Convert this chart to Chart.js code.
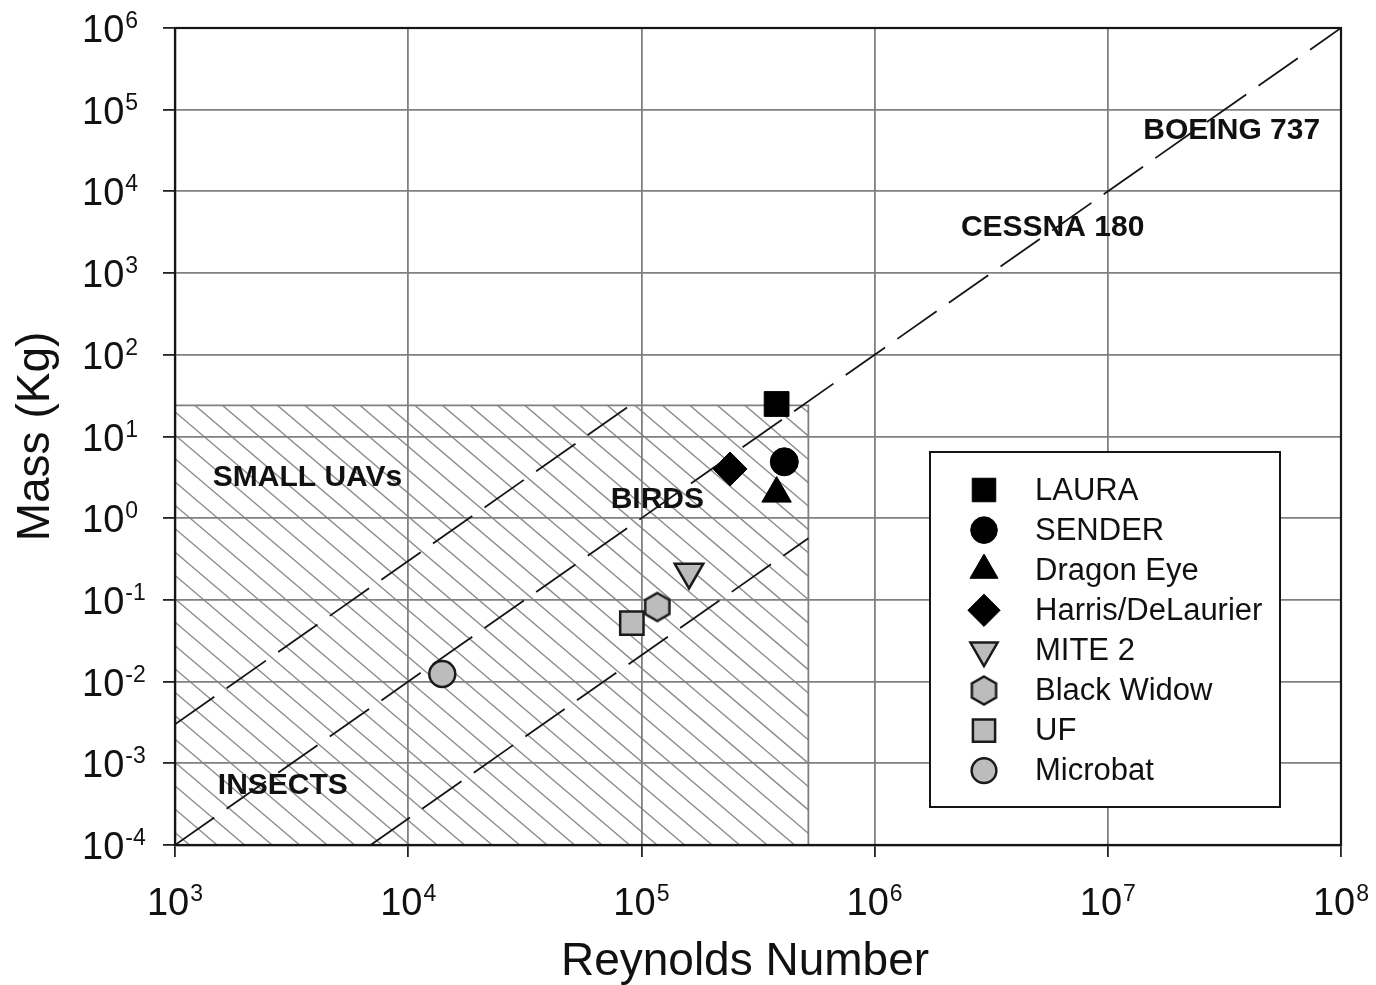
<!DOCTYPE html>
<html>
<head>
<meta charset="utf-8">
<script src="https://cdn.jsdelivr.net/npm/chart.js@4.4.1/dist/chart.umd.min.js"></script>
<style>
  html, body { margin: 0; padding: 0; background: #fff; }
</style>
</head>
<body>
<canvas id="myChart" width="1376" height="985"></canvas>
<script>
// vehicles
const vehicles = ['LAURA', 'SENDER', 'Dragon Eye', 'Harris/DeLaurier', 'MITE 2', 'Black Widow', 'UF', 'Microbat'];
const reynolds = [3.8e5, 4.1e5, 3.8e5, 2.4e5, 1.6e5, 1.17e5, 9.1e4, 1.4e4];
const massKg = [25, 4.9, 2.0, 4.0, 0.22, 0.082, 0.052, 0.0124];

// dashed guide lines (Re, mass endpoints)
const guideRe = [[1e3, 1e8], [1e3, 9e4], [6.9e3, 5.2e5]];
const guideMass = [[1e-4, 1e6], [3e-3, 24.3], [1e-4, 0.57]];

// hatched small-UAV / birds / insects region
const hatchRe = [1e3, 5.2e5];
const hatchMass = [1e-4, 24];

// region labels
const regionNames = ['BOEING 737', 'CESSNA 180', 'SMALL UAVs', 'BIRDS', 'INSECTS'];
const regionRe = [3.4e7, 5.8e6, 3.7e3, 1.17e5, 2.9e3];
const regionMass = [5.6e4, 3.6e3, 3.1, 1.67, 5.3e-4];

// tick labels (powers of ten)
const xTickExp = ['3', '4', '5', '6', '7', '8'];
const yTickExp = ['-4', '-3', '-2', '-1', '0', '1', '2', '3', '4', '5', '6'];

const FONT = "'Liberation Sans', Arial, Helvetica, sans-serif";

function hexagonCanvas(r, fill, stroke, lw) {
  const size = Math.ceil(2 * r + lw + 2);
  const c = document.createElement('canvas');
  c.width = size; c.height = size;
  const g = c.getContext('2d');
  g.beginPath();
  for (let k = 0; k < 6; k++) {
    const a = -Math.PI / 2 + k * Math.PI / 3;
    const px = size / 2 + r * Math.cos(a), py = size / 2 + r * Math.sin(a);
    if (k) g.lineTo(px, py); else g.moveTo(px, py);
  }
  g.closePath();
  g.fillStyle = fill; g.fill();
  g.lineWidth = lw; g.strokeStyle = stroke; g.stroke();
  return c;
}

const GREY = '#bcbcbc';
const markerStyles = [
  { pointStyle: 'rect', radius: 17.5, rotation: 0, fill: '#000', stroke: '#000', lw: 1 },
  { pointStyle: 'circle', radius: 14, rotation: 0, fill: '#000', stroke: '#000', lw: 1 },
  { pointStyle: 'triangle', radius: 17, rotation: 0, fill: '#000', stroke: '#000', lw: 1 },
  { pointStyle: 'rectRot', radius: 17, rotation: 0, fill: '#000', stroke: '#000', lw: 1 },
  { pointStyle: 'triangle', radius: 16.5, rotation: 180, fill: GREY, stroke: '#1a1a1a', lw: 2.5 },
  { pointStyle: hexagonCanvas(14, GREY, '#1a1a1a', 2.5), radius: 14, rotation: 0, fill: GREY, stroke: '#1a1a1a', lw: 2.5 },
  { pointStyle: 'rect', radius: 16.5, rotation: 0, fill: GREY, stroke: '#1a1a1a', lw: 2.5 },
  { pointStyle: 'circle', radius: 13, rotation: 0, fill: GREY, stroke: '#1a1a1a', lw: 2.5 }
];

const markerSets = vehicles.map((name, i) => ({
  label: name,
  data: [{ x: reynolds[i], y: massKg[i] }],
  pointStyle: markerStyles[i].pointStyle,
  pointRadius: markerStyles[i].radius,
  pointRotation: markerStyles[i].rotation,
  backgroundColor: markerStyles[i].fill,
  borderColor: markerStyles[i].stroke,
  borderWidth: markerStyles[i].lw,
  clip: false
}));

const guideSets = guideRe.map((re, i) => ({
  label: 'guide' + i,
  data: re.map((v, k) => ({ x: v, y: guideMass[i][k] })),
  showLine: true,
  pointRadius: 0,
  borderColor: '#151515',
  borderWidth: 1.8,
  borderDash: [48, 15],
  fill: false
}));

const backdrop = {
  id: 'backdrop',
  beforeDraw(chart) {
    const { ctx, scales: { x, y } } = chart;
    ctx.save();
    ctx.fillStyle = '#fff';
    ctx.fillRect(0, 0, chart.width, chart.height);
    const l = x.getPixelForValue(hatchRe[0]), r = x.getPixelForValue(hatchRe[1]);
    const b = y.getPixelForValue(hatchMass[0]), t = y.getPixelForValue(hatchMass[1]);
    ctx.save();
    ctx.beginPath(); ctx.rect(l, t, r - l, b - t); ctx.clip();
    ctx.strokeStyle = '#8c8c8c';
    ctx.lineWidth = 1.4;
    const slope = 0.85, step = 27.5, h = b - t;
    const run = h / slope;
    for (let c = l + 20 - Math.ceil(run / step + 1) * step; c < r; c += step) {
      ctx.beginPath(); ctx.moveTo(c, t); ctx.lineTo(c + run, b); ctx.stroke();
    }
    ctx.restore();
    ctx.strokeStyle = '#808080';
    ctx.lineWidth = 1.8;
    ctx.beginPath();
    ctx.moveTo(l, t); ctx.lineTo(r, t); ctx.lineTo(r, b);
    ctx.stroke();
    ctx.restore();
  },
  beforeDatasetsDraw(chart) {
    const { ctx, scales: { x, y } } = chart;
    ctx.save();
    ctx.font = `bold 30px ${FONT}`;
    ctx.fillStyle = '#111';
    ctx.textAlign = 'center';
    ctx.textBaseline = 'middle';
    regionNames.forEach((t, i) => {
      ctx.fillText(t, x.getPixelForValue(regionRe[i]), y.getPixelForValue(regionMass[i]));
    });
    ctx.restore();
  }
};

function drawPower(ctx, exp, x, baseline, align) {
  ctx.font = `38px ${FONT}`;
  const w10 = ctx.measureText('10').width;
  ctx.font = `23px ${FONT}`;
  const wExp = ctx.measureText(exp).width;
  const start = align === 'center' ? x - (w10 + 1 + wExp) / 2 : x;
  ctx.textAlign = 'left';
  ctx.textBaseline = 'alphabetic';
  ctx.font = `38px ${FONT}`;
  ctx.fillText('10', start, baseline);
  ctx.font = `23px ${FONT}`;
  ctx.fillText(exp, start + w10 + 1, baseline - 14);
}

const overlay = {
  id: 'overlay',
  afterDraw(chart) {
    const { ctx, chartArea: a, scales: { x, y } } = chart;
    ctx.save();
    // frame
    ctx.strokeStyle = '#151515';
    ctx.lineWidth = 2.2;
    ctx.strokeRect(a.left, a.top, a.right - a.left, a.bottom - a.top);

    // tick labels
    ctx.fillStyle = '#111';
    xTickExp.forEach(e => drawPower(ctx, e, x.getPixelForValue(Math.pow(10, +e)), a.bottom + 70, 'center'));
    yTickExp.forEach(e => drawPower(ctx, e, 82, y.getPixelForValue(Math.pow(10, +e)) + 14, 'left'));

    // axis titles
    ctx.font = `46px ${FONT}`;
    ctx.textAlign = 'center';
    ctx.textBaseline = 'alphabetic';
    ctx.fillText('Reynolds Number', (a.left + a.right) / 2 - 13, 975);
    ctx.save();
    ctx.translate(49, (a.top + a.bottom) / 2);
    ctx.rotate(-Math.PI / 2);
    ctx.fillText('Mass (Kg)', 0, 0);
    ctx.restore();

    // legend
    const bx = a.right - 411, by = 452, bw = 350, bh = 355;
    ctx.fillStyle = '#fff';
    ctx.fillRect(bx, by, bw, bh);
    ctx.strokeStyle = '#151515';
    ctx.lineWidth = 2;
    ctx.strokeRect(bx, by, bw, bh);
    chart.data.datasets.slice(0, vehicles.length).forEach((ds, i) => {
      const cy = by + 38 + i * 40.1;
      ctx.fillStyle = ds.backgroundColor;
      ctx.strokeStyle = ds.borderColor;
      ctx.lineWidth = ds.borderWidth;
      Chart.helpers.drawPoint(ctx, {
        pointStyle: ds.pointStyle, rotation: ds.pointRotation,
        radius: ds.pointRadius * 0.95, borderWidth: ds.borderWidth
      }, bx + 54, cy);
      ctx.fillStyle = '#111';
      ctx.font = `31px ${FONT}`;
      ctx.textAlign = 'left';
      ctx.textBaseline = 'middle';
      ctx.fillText(ds.label, bx + 105, cy + 1);
    });
    ctx.restore();
  }
};

const ctx = document.getElementById('myChart');

new Chart(ctx, {
  type: 'scatter',
  data: { datasets: [...markerSets, ...guideSets] },
  options: {
    responsive: false,
    animation: false,
    devicePixelRatio: 1,
    layout: { padding: { top: 28, right: 35, left: 0, bottom: 0 } },
    plugins: { legend: { display: false }, tooltip: { enabled: false } },
    scales: {
      x: {
        type: 'logarithmic',
        min: 1e3, max: 1e8,
        afterBuildTicks: s => { s.ticks = xTickExp.map(e => ({ value: Math.pow(10, +e) })); },
        afterFit: s => { s.height = 140; },
        ticks: { display: false },
        grid: { color: '#808080', lineWidth: 1.8, tickLength: 12, tickColor: '#222' },
        border: { display: true, color: '#151515', width: 2.2 }
      },
      y: {
        type: 'logarithmic',
        min: 1e-4, max: 1e6,
        afterBuildTicks: s => { s.ticks = yTickExp.map(e => ({ value: Math.pow(10, +e) })); },
        afterFit: s => { s.width = 175; },
        ticks: { display: false },
        grid: { color: '#808080', lineWidth: 1.8, tickLength: 12, tickColor: '#222' },
        border: { display: true, color: '#151515', width: 2.2 }
      }
    }
  },
  plugins: [backdrop, overlay]
});
</script>
</body>
</html>
